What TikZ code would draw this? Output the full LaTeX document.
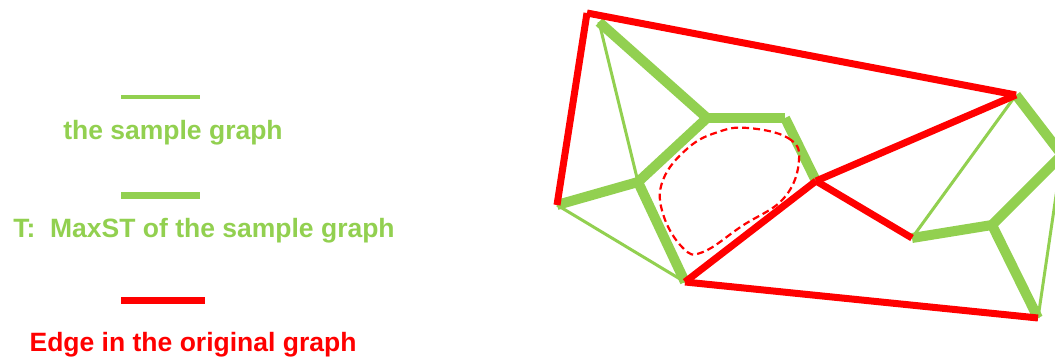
\documentclass[tikz,border=0pt]{standalone}
\usepackage{fontspec}
\setmainfont{Liberation Sans}
\definecolor{lgreen}{HTML}{92D050}
\definecolor{myred}{HTML}{FF0000}
\tikzset{
  redge/.style={draw=myred, line width=7pt},
  thickg/.style={draw=lgreen, line width=10pt},
  thing/.style={draw=lgreen, line width=3pt},
  legtxt/.style={font=\fontsize{26.5}{30}\selectfont\bfseries, anchor=base, inner sep=0pt},
  dashloop/.style={draw=myred, line width=2.2pt, dash pattern=on 7pt off 4pt},
}
\begin{document}
\begin{tikzpicture}[x=1pt,y=-1pt]
\useasboundingbox (0,0) rectangle (1055,358);
\clip (0,0) rectangle (1055,358);
% legend
\coordinate (l1a) at (121,97); \coordinate (l1b) at (200,97);
\coordinate (l2a) at (121,196); \coordinate (l2b) at (200,196);
\coordinate (l3a) at (121,300); \coordinate (l3b) at (205,300);
\draw[draw=lgreen, line width=4pt] (l1a) -- (l1b);
\draw[draw=lgreen, line width=7pt] (l2a) -- (l2b);
\draw[draw=myred, line width=7pt] (l3a) -- (l3b);
\node[legtxt, text=lgreen] (t1) at (173,140) {the sample graph};
\node[legtxt, text=lgreen] (t2) at (204,237) {T:\ \ MaxST of the sample graph};
\node[legtxt, text=myred] (t3) at (193,351) {Edge in the original graph};
% vertices
\coordinate (A) at (587,13);
\coordinate (B) at (557,205);
\coordinate (G1) at (599,22);
\coordinate (G2) at (707,118);
\coordinate (G3) at (785,118);
\coordinate (G4) at (638,182);
\coordinate (D) at (685,282);
\coordinate (C) at (816,181);
\coordinate (E) at (1016,95);
\coordinate (H) at (912,238);
\coordinate (I) at (992,225);
\coordinate (J) at (1062,155);
\coordinate (F) at (1038,318);
% thin green
\draw[thing] (G1) -- (G4);
\draw[thing] (B) -- (D);
\draw[thing] (E) -- (H);
\draw[thing] (J) -- (F);
% thick green
\draw[thickg] (G1) -- (G2);
\draw[thickg] (G2) -- (G3);
\draw[thickg] (G3) -- (C);
\draw[thickg] (G2) -- (G4);
\draw[thickg] (G4) -- (B);
\draw[thickg] (G4) -- (D);
\draw[thickg] (H) -- (I);
\draw[thickg] (I) -- (J);
\draw[thickg] (E) -- (J);
\draw[thickg] (I) -- (F);
% red edges
\draw[redge] (A) -- (B);
\draw[redge] (A) -- (E);
\draw[redge] (D) -- (C);
\draw[redge] (D) -- (F);
\draw[redge] (C) -- (E);
\draw[redge] (C) -- (H);
% dashed loop
\draw[dashloop] plot[smooth cycle, tension=0.7] coordinates {(748,128) (788,138) (799,160) (784,198) (742,226) (703,252) (683,248) (663,214) (663,180) (688,148) (718,132)};
\end{tikzpicture}
\end{document}
